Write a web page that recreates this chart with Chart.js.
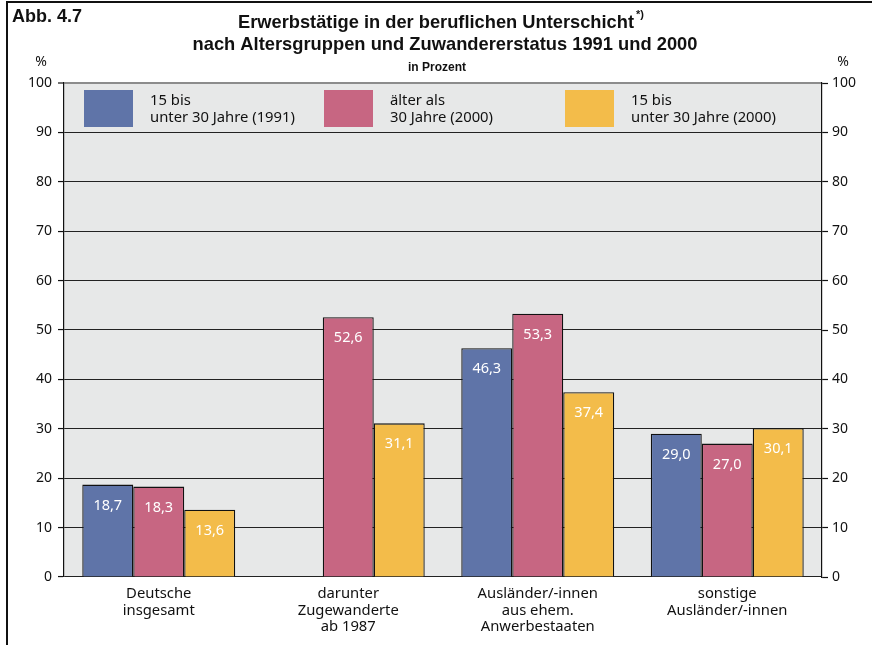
<!DOCTYPE html>
<html><head><meta charset="utf-8">
<script src="https://cdn.jsdelivr.net/npm/chart.js@4/dist/chart.umd.min.js"></script>
<style>html,body{margin:0;padding:0;background:#fff;}#wrap{width:872px;height:645px;}</style>
</head><body><div id="wrap"><canvas id="c" width="872" height="645"></canvas></div>
<script>
const categories = [["Deutsche","insgesamt"],["darunter","Zugewanderte","ab 1987"],["Ausländer/-innen","aus ehem.","Anwerbestaaten"],["sonstige","Ausländer/-innen"]];
const seriesNames = [["15 bis","unter 30 Jahre (1991)"],["älter als","30 Jahre (2000)"],["15 bis","unter 30 Jahre (2000)"]];
const young1991 = [18.7, null, 46.3, 29.0];
const older2000 = [18.3, 52.6, 53.3, 27.0];
const young2000 = [13.6, 31.1, 37.4, 30.1];
const yTicks = [0,10,20,30,40,50,60,70,80,90,100];
const colors = ['#5f74a8','#c76682','#f3bc4a'];
const FONT = '"Noto Sans", "Liberation Sans", sans-serif';
const BFONT = '"Liberation Sans", sans-serif';

const deco = {
  id:'deco',
  beforeDraw(chart){
    const {ctx, chartArea:a} = chart;
    ctx.save();
    ctx.fillStyle='#fff'; ctx.fillRect(0,0,chart.width,chart.height);
    ctx.fillStyle='#e7e8e8'; ctx.fillRect(a.left,a.top,a.right-a.left,a.bottom-a.top);
    ctx.restore();
  },
  afterDatasetsDraw(chart){
    const ctx = chart.ctx;
    ctx.save();
    ctx.fillStyle='#fff'; ctx.font='14.5px '+FONT; ctx.textAlign='center'; ctx.textBaseline='middle';
    chart.data.datasets.forEach((ds,i)=>{
      const meta = chart.getDatasetMeta(i);
      meta.data.forEach((el,j)=>{
        const v = ds.data[j];
        if(v==null) return;
        ctx.fillText(v.toFixed(1).replace('.',','), el.x, el.y+21);
      });
    });
    ctx.restore();
  },
  afterDraw(chart){
    const {ctx} = chart;
    ctx.save();
    ctx.strokeStyle='#111'; ctx.lineWidth=2;
    ctx.beginPath(); ctx.moveTo(7,645); ctx.lineTo(7,2); ctx.lineTo(872,2); ctx.stroke();
    ctx.fillStyle='#111';
    ctx.textBaseline='alphabetic';
    ctx.font='bold 18px '+BFONT; ctx.textAlign='left';
    ctx.fillText('Abb. 4.7', 12, 22, 72);
    ctx.font='bold 19px '+BFONT;
    const t1='Erwerbstätige in der beruflichen Unterschicht';
    const w1=Math.min(ctx.measureText(t1).width, 396);
    ctx.fillText(t1, 238, 28, 396);
    ctx.font='bold 11px '+BFONT;
    ctx.fillText('*)', 238+w1+2, 18);
    ctx.font='bold 19px '+BFONT; ctx.textAlign='center';
    ctx.fillText('nach Altersgruppen und Zuwandererstatus 1991 und 2000', 445, 50, 505);
    ctx.font='bold 12px '+BFONT;
    ctx.fillText('in Prozent', 437, 71);
    ctx.font='14px '+FONT;
    ctx.fillText('%', 41, 66);
    ctx.fillText('%', 843, 66);
    const lx=[84,324,565];
    chart.data.datasets.forEach((ds,i)=>{
      ctx.fillStyle=ds.backgroundColor;
      ctx.fillRect(lx[i],90,49,37);
      ctx.fillStyle='#111'; ctx.textAlign='left'; ctx.font='14.8px '+FONT;
      ctx.fillText(seriesNames[i][0], lx[i]+66, 105);
      ctx.fillText(seriesNames[i][1], lx[i]+66, 122);
    });
    ctx.restore();
  }
};

const ds = [young1991, older2000, young2000].map((d,i)=>({
  label: seriesNames[i].join(' '),
  data: d,
  backgroundColor: colors[i],
  borderColor: '#111',
  borderWidth: 1.3,
  borderSkipped: 'bottom',
  barPercentage: 1,
  categoryPercentage: 0.807
}));

const tickFont = {family: FONT, size: 14};
new Chart(document.getElementById('c'), {
  type:'bar',
  data:{labels: categories, datasets: ds},
  plugins:[deco],
  options:{
    responsive:false, animation:false, devicePixelRatio:1,
    layout:{padding:{top:83,left:0,right:0,bottom:0}},
    plugins:{legend:{display:false}, tooltip:{enabled:false}, title:{display:false}},
    scales:{
      x:{
        grid:{display:false, drawTicks:false}, border:{display:false},
        ticks:{font:{family: FONT, size: 14.8, lineHeight: 1.1}, color:'#111', padding:9, maxRotation:0, autoSkip:false},
        afterFit(s){ s.height = 68; }
      },
      y:{
        position:'left', min:0, max:100,
        afterBuildTicks(s){ s.ticks = yTicks.map(v=>({value:v})); },
        ticks:{font:tickFont, color:'#111', padding:6},
        grid:{color:c=> c.tick && c.tick.value===100 ? '#8c8c8c' : '#222', lineWidth:c=> c.tick && c.tick.value===100 ? 2 : 1.1, tickLength:6, tickColor:'#111', tickWidth:1.2},
        border:{color:'#111', width:1.2},
        afterFit(s){ s.width = 64; }
      },
      y2:{
        position:'right', min:0, max:100,
        afterBuildTicks(s){ s.ticks = yTicks.map(v=>({value:v})); },
        ticks:{font:tickFont, color:'#111', padding:4},
        grid:{drawOnChartArea:false, tickLength:6, tickColor:'#111', tickWidth:1.2},
        border:{color:'#111', width:1.2},
        afterFit(s){ s.width = 50; }
      }
    }
  }
});
</script></body></html>
